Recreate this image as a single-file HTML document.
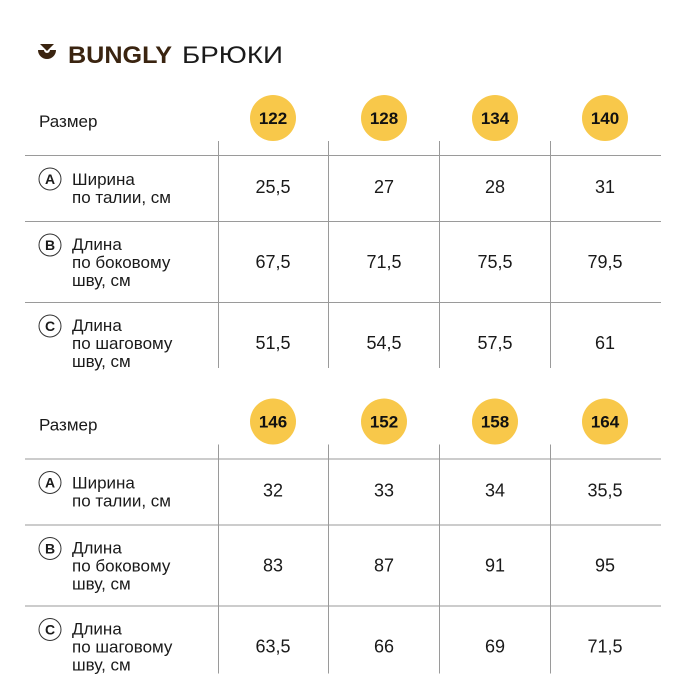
<!DOCTYPE html>
<html><head><meta charset="utf-8"><style>
html,body{margin:0;padding:0;background:#fff;width:700px;height:700px;overflow:hidden}
svg{display:block}
text{font-family:"Liberation Sans","DejaVu Sans",sans-serif;fill:#1a1a1a}
.v{font-size:18px;text-anchor:middle}
.l{font-size:17px}
.n{font-size:17px;font-weight:bold;text-anchor:middle;fill:#111}
.lt{font-size:14px;font-weight:bold;text-anchor:middle}
</style></head><body>
<svg width="700" height="700" viewBox="0 0 700 700">
<g fill="#3a2410">
<polygon points="40,44 54,44 47,51"/>
<path d="M38,50 h6 a3,3 0 0 0 6,0 h6 a9,9 0 0 1 -18,0z"/>
</g>
<text x="68" y="63" style="font-size:24px;font-weight:bold;fill:#3a2410" textLength="104" lengthAdjust="spacingAndGlyphs">BUNGLY</text>
<text x="182" y="63" style="font-size:24px" textLength="101" lengthAdjust="spacingAndGlyphs">БРЮКИ</text>

<g id="t1">
<text x="39" y="127" class="l">Размер</text>
<g fill="#f8c84a"><circle cx="273" cy="118" r="23"/><circle cx="384" cy="118" r="23"/><circle cx="495" cy="118" r="23"/><circle cx="605" cy="118" r="23"/></g>
<text x="273" y="124" class="n">122</text><text x="384" y="124" class="n">128</text><text x="495" y="124" class="n">134</text><text x="605" y="124" class="n">140</text>
<g stroke="#9a9a9a" stroke-width="1">
<line x1="25" y1="155.5" x2="661" y2="155.5"/><line x1="25" y1="221.5" x2="661" y2="221.5"/><line x1="25" y1="302.5" x2="661" y2="302.5"/>
<line x1="218.5" y1="141" x2="218.5" y2="368"/><line x1="328.5" y1="141" x2="328.5" y2="368"/><line x1="439.5" y1="141" x2="439.5" y2="368"/><line x1="550.5" y1="141" x2="550.5" y2="368"/>
</g>
<g fill="none" stroke="#333" stroke-width="1"><circle cx="50" cy="179" r="11"/><circle cx="50" cy="245" r="11"/><circle cx="50" cy="326" r="11"/></g>
<text x="50" y="184" class="lt">A</text><text x="50" y="250" class="lt">B</text><text x="50" y="331" class="lt">C</text>
<text x="72" y="185" class="l">Ширина</text><text x="72" y="203" class="l">по талии, см</text>
<text x="72" y="250" class="l">Длина</text><text x="72" y="268" class="l">по боковому</text><text x="72" y="286" class="l">шву, см</text>
<text x="72" y="331" class="l">Длина</text><text x="72" y="349" class="l">по шаговому</text><text x="72" y="367" class="l">шву, см</text>
<text x="273" y="193" class="v">25,5</text><text x="384" y="193" class="v">27</text><text x="495" y="193" class="v">28</text><text x="605" y="193" class="v">31</text>
<text x="273" y="268" class="v">67,5</text><text x="384" y="268" class="v">71,5</text><text x="495" y="268" class="v">75,5</text><text x="605" y="268" class="v">79,5</text>
<text x="273" y="349" class="v">51,5</text><text x="384" y="349" class="v">54,5</text><text x="495" y="349" class="v">57,5</text><text x="605" y="349" class="v">61</text>
</g>

<g transform="translate(0,303.5)">
<text x="39" y="127" class="l">Размер</text>
<g fill="#f8c84a"><circle cx="273" cy="118" r="23"/><circle cx="384" cy="118" r="23"/><circle cx="495" cy="118" r="23"/><circle cx="605" cy="118" r="23"/></g>
<text x="273" y="124" class="n">146</text><text x="384" y="124" class="n">152</text><text x="495" y="124" class="n">158</text><text x="605" y="124" class="n">164</text>
<g stroke="#9a9a9a" stroke-width="1">
<line x1="25" y1="155.5" x2="661" y2="155.5"/><line x1="25" y1="221.5" x2="661" y2="221.5"/><line x1="25" y1="302.5" x2="661" y2="302.5"/>
<line x1="218.5" y1="141" x2="218.5" y2="370"/><line x1="328.5" y1="141" x2="328.5" y2="370"/><line x1="439.5" y1="141" x2="439.5" y2="370"/><line x1="550.5" y1="141" x2="550.5" y2="370"/>
</g>
<g fill="none" stroke="#333" stroke-width="1"><circle cx="50" cy="179" r="11"/><circle cx="50" cy="245" r="11"/><circle cx="50" cy="326" r="11"/></g>
<text x="50" y="184" class="lt">A</text><text x="50" y="250" class="lt">B</text><text x="50" y="331" class="lt">C</text>
<text x="72" y="185" class="l">Ширина</text><text x="72" y="203" class="l">по талии, см</text>
<text x="72" y="250" class="l">Длина</text><text x="72" y="268" class="l">по боковому</text><text x="72" y="286" class="l">шву, см</text>
<text x="72" y="331" class="l">Длина</text><text x="72" y="349" class="l">по шаговому</text><text x="72" y="367" class="l">шву, см</text>
<text x="273" y="193" class="v">32</text><text x="384" y="193" class="v">33</text><text x="495" y="193" class="v">34</text><text x="605" y="193" class="v">35,5</text>
<text x="273" y="268" class="v">83</text><text x="384" y="268" class="v">87</text><text x="495" y="268" class="v">91</text><text x="605" y="268" class="v">95</text>
<text x="273" y="349" class="v">63,5</text><text x="384" y="349" class="v">66</text><text x="495" y="349" class="v">69</text><text x="605" y="349" class="v">71,5</text>
</g>
</svg>
</body></html>
